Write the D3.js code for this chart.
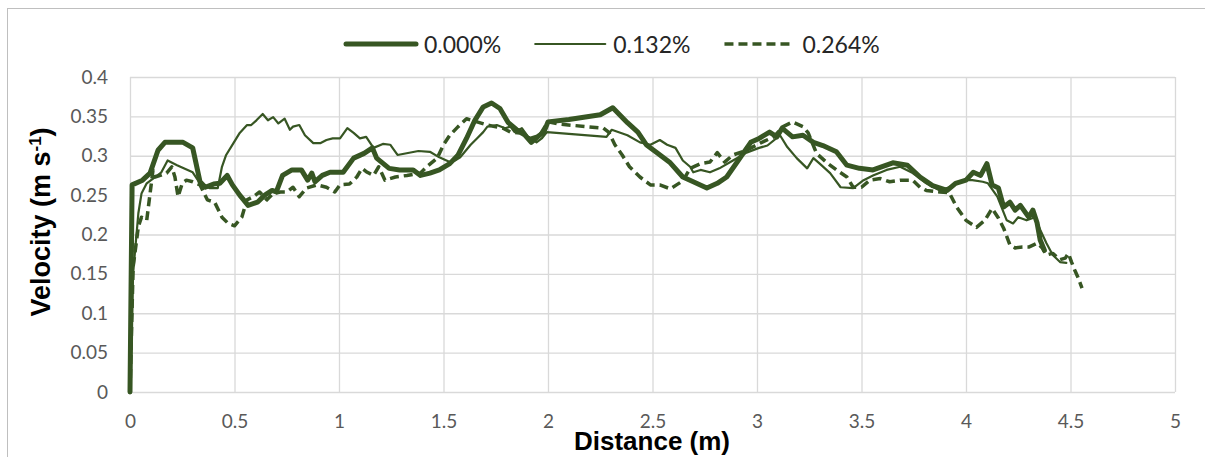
<!DOCTYPE html>
<html>
<head>
<meta charset="utf-8">
<script src="https://cdn.jsdelivr.net/npm/d3@7"></script>
<style>
  body { margin: 0; background: #fff; }
  svg { display: block; }
</style>
</head>
<body>
<svg id="chart" width="1205" height="457"></svg>
<script>
// series labels
const seriesNames = ['0.000%', '0.132%', '0.264%'];

// [distance (m), velocity (m/s)]
const vel000 = [
  [0, 0], [0.01, 0.263], [0.06, 0.269], [0.096, 0.278], [0.134, 0.307], [0.167, 0.317],
  [0.254, 0.317], [0.30, 0.31], [0.335, 0.267], [0.36, 0.26], [0.40, 0.264], [0.43, 0.265],
  [0.465, 0.275], [0.49, 0.263], [0.525, 0.25], [0.565, 0.237], [0.61, 0.241], [0.645, 0.25],
  [0.68, 0.256], [0.70, 0.254], [0.73, 0.275], [0.775, 0.282], [0.82, 0.282], [0.85, 0.269],
  [0.87, 0.278], [0.885, 0.267], [0.92, 0.275], [0.957, 0.279], [1.02, 0.279], [1.07, 0.297],
  [1.12, 0.303], [1.16, 0.31], [1.18, 0.297], [1.24, 0.284], [1.29, 0.282], [1.355, 0.282],
  [1.39, 0.275], [1.435, 0.278], [1.48, 0.282], [1.53, 0.29], [1.57, 0.301], [1.61, 0.322],
  [1.65, 0.345], [1.69, 0.362], [1.73, 0.367], [1.77, 0.36], [1.81, 0.342], [1.85, 0.333],
  [1.88, 0.329], [1.92, 0.317], [1.95, 0.324], [1.98, 0.33], [2.0, 0.343], [2.1, 0.346],
  [2.25, 0.352], [2.31, 0.361], [2.38, 0.342], [2.43, 0.33], [2.47, 0.314], [2.52, 0.304],
  [2.585, 0.291], [2.645, 0.273], [2.695, 0.267], [2.76, 0.259], [2.81, 0.265], [2.855, 0.273],
  [2.905, 0.292], [2.97, 0.317], [3.01, 0.322], [3.06, 0.33], [3.095, 0.324], [3.12, 0.335],
  [3.17, 0.324], [3.22, 0.326], [3.27, 0.317], [3.315, 0.313], [3.38, 0.305], [3.43, 0.288],
  [3.49, 0.284], [3.555, 0.282], [3.65, 0.291], [3.72, 0.288], [3.78, 0.273], [3.84, 0.262],
  [3.91, 0.256], [3.95, 0.265], [4.0, 0.269], [4.035, 0.279], [4.07, 0.275], [4.1, 0.29],
  [4.125, 0.263], [4.155, 0.259], [4.18, 0.235], [4.21, 0.241], [4.235, 0.231], [4.26, 0.237],
  [4.3, 0.222], [4.32, 0.231], [4.34, 0.215], [4.355, 0.193], [4.375, 0.18]
];

const vel132 = [
  [0, 0], [0.015, 0.151], [0.04, 0.227], [0.055, 0.252], [0.08, 0.265], [0.12, 0.273],
  [0.15, 0.279], [0.18, 0.294], [0.225, 0.288], [0.30, 0.279], [0.335, 0.265], [0.38, 0.259],
  [0.42, 0.259], [0.44, 0.286], [0.46, 0.301], [0.495, 0.316], [0.525, 0.329], [0.56, 0.339],
  [0.58, 0.339], [0.605, 0.345], [0.635, 0.353], [0.66, 0.345], [0.685, 0.349], [0.71, 0.341],
  [0.74, 0.347], [0.765, 0.333], [0.78, 0.337], [0.81, 0.339], [0.837, 0.326], [0.877, 0.316],
  [0.91, 0.316], [0.94, 0.32], [0.97, 0.322], [1.005, 0.322], [1.04, 0.335], [1.07, 0.329],
  [1.1, 0.322], [1.13, 0.324], [1.165, 0.31], [1.21, 0.315], [1.245, 0.314], [1.28, 0.301],
  [1.38, 0.306], [1.435, 0.305], [1.48, 0.298], [1.53, 0.292], [1.555, 0.294], [1.58, 0.298],
  [1.63, 0.314], [1.66, 0.322], [1.69, 0.33], [1.71, 0.337], [1.755, 0.339], [1.795, 0.335],
  [1.82, 0.337], [1.84, 0.33], [1.875, 0.335], [1.905, 0.324], [1.945, 0.317], [1.97, 0.322],
  [1.995, 0.33], [2.28, 0.324], [2.305, 0.333], [2.38, 0.326], [2.44, 0.317], [2.49, 0.314],
  [2.535, 0.32], [2.57, 0.314], [2.61, 0.31], [2.645, 0.294], [2.68, 0.286], [2.695, 0.279],
  [2.73, 0.282], [2.775, 0.279], [2.82, 0.284], [2.885, 0.294], [2.95, 0.304], [3.01, 0.31],
  [3.05, 0.313], [3.11, 0.326], [3.145, 0.311], [3.19, 0.297], [3.24, 0.284], [3.27, 0.297],
  [3.3, 0.29], [3.35, 0.278], [3.4, 0.26], [3.46, 0.259], [3.51, 0.269], [3.555, 0.275],
  [3.62, 0.282], [3.685, 0.286], [3.745, 0.278], [3.81, 0.265], [3.875, 0.256], [3.92, 0.26],
  [3.985, 0.269], [4.03, 0.269], [4.08, 0.267], [4.105, 0.265], [4.15, 0.248], [4.195, 0.218],
  [4.225, 0.214], [4.25, 0.222], [4.29, 0.218], [4.33, 0.222], [4.355, 0.206], [4.385, 0.189],
  [4.415, 0.174], [4.45, 0.165], [4.48, 0.164]
];

const vel264 = [
  [0, 0], [0.015, 0.159], [0.04, 0.21], [0.055, 0.222], [0.08, 0.218], [0.096, 0.252],
  [0.11, 0.282], [0.12, 0.273], [0.145, 0.275], [0.175, 0.278], [0.2, 0.286], [0.215, 0.273],
  [0.23, 0.248], [0.25, 0.265], [0.27, 0.269], [0.30, 0.267], [0.335, 0.263], [0.37, 0.244],
  [0.405, 0.241], [0.44, 0.222], [0.47, 0.214], [0.5, 0.211], [0.535, 0.222], [0.56, 0.244],
  [0.59, 0.248], [0.62, 0.254], [0.655, 0.244], [0.685, 0.252], [0.72, 0.254], [0.75, 0.254],
  [0.78, 0.26], [0.81, 0.248], [0.845, 0.259], [0.895, 0.263], [0.94, 0.26], [0.98, 0.254],
  [1.005, 0.263], [1.05, 0.264], [1.085, 0.273], [1.11, 0.284], [1.135, 0.279], [1.165, 0.275],
  [1.19, 0.286], [1.22, 0.269], [1.27, 0.273], [1.325, 0.275], [1.39, 0.278], [1.42, 0.286],
  [1.47, 0.297], [1.5, 0.314], [1.53, 0.326], [1.57, 0.337], [1.61, 0.347], [1.66, 0.343],
  [1.71, 0.339], [1.745, 0.337], [1.785, 0.335], [1.82, 0.33], [1.865, 0.329], [1.915, 0.322],
  [1.96, 0.326], [2.0, 0.343], [2.06, 0.34], [2.265, 0.335], [2.29, 0.33], [2.32, 0.314],
  [2.355, 0.301], [2.39, 0.286], [2.44, 0.273], [2.49, 0.263], [2.535, 0.263], [2.585, 0.258],
  [2.615, 0.263], [2.645, 0.268], [2.68, 0.284], [2.73, 0.29], [2.775, 0.292], [2.81, 0.304],
  [2.845, 0.292], [2.885, 0.301], [2.95, 0.307], [3.015, 0.316], [3.08, 0.324], [3.125, 0.337],
  [3.17, 0.343], [3.22, 0.337], [3.245, 0.329], [3.285, 0.303], [3.335, 0.291], [3.38, 0.282],
  [3.43, 0.273], [3.46, 0.26], [3.5, 0.26], [3.54, 0.269], [3.59, 0.271], [3.635, 0.267],
  [3.685, 0.269], [3.745, 0.269], [3.78, 0.26], [3.81, 0.256], [3.875, 0.254], [3.92, 0.253],
  [3.955, 0.235], [4.0, 0.218], [4.05, 0.209], [4.09, 0.218], [4.125, 0.233], [4.155, 0.221],
  [4.18, 0.208], [4.21, 0.187], [4.235, 0.183], [4.27, 0.184], [4.3, 0.184], [4.34, 0.189],
  [4.365, 0.183], [4.385, 0.174], [4.415, 0.176], [4.45, 0.168], [4.475, 0.17], [4.49, 0.176],
  [4.505, 0.165], [4.52, 0.155], [4.535, 0.146], [4.555, 0.132]
];

// tick labels
const xTicks = [0, 0.5, 1, 1.5, 2, 2.5, 3, 3.5, 4, 4.5, 5];
const xTickLabels = ['0', '0.5', '1', '1.5', '2', '2.5', '3', '3.5', '4', '4.5', '5'];
const yTicks = [0, 0.05, 0.1, 0.15, 0.2, 0.25, 0.3, 0.35, 0.4];
const yTickLabels = ['0', '0.05', '0.1', '0.15', '0.2', '0.25', '0.3', '0.35', '0.4'];

const green = '#375623';
const styles = [
  { width: 5, dash: null },
  { width: 2.2, dash: null },
  { width: 3.5, dash: '9,5' }
];
const allSeries = [vel000, vel132, vel264];

const svg = d3.select('#chart');
const plot = { left: 130, right: 1175, top: 77, bottom: 392 };

// chart frame
svg.append('rect')
  .attr('x', 7.5).attr('y', 8.5)
  .attr('width', 1230).attr('height', 480)
  .attr('fill', 'none')
  .attr('stroke', '#bfbfbf')
  .attr('stroke-width', 1);

const x = d3.scaleLinear().domain([0, 5]).range([plot.left, plot.right]);
const y = d3.scaleLinear().domain([0, 0.4]).range([plot.bottom, plot.top]);

// y axis + horizontal grid
const yAxis = svg.append('g')
  .attr('transform', `translate(${plot.left},0)`)
  .call(d3.axisLeft(y)
    .tickValues(yTicks)
    .tickSize(-(plot.right - plot.left))
    .tickPadding(22)
    .tickFormat((d, i) => yTickLabels[i]));

// x axis + vertical grid
const xAxis = svg.append('g')
  .attr('transform', `translate(0,${plot.bottom})`)
  .call(d3.axisBottom(x)
    .tickValues(xTicks)
    .tickSize(-(plot.bottom - plot.top))
    .tickPadding(23)
    .tickFormat((d, i) => xTickLabels[i]));

[xAxis, yAxis].forEach(g => {
  g.select('.domain').remove();
  g.selectAll('.tick line')
    .attr('stroke', '#d9d9d9')
    .attr('stroke-width', 1.3);
  g.selectAll('.tick text')
    .attr('fill', '#595959')
    .style('font-family', 'Lato, "Open Sans", sans-serif')
    .style('font-size', '19px');
});

// lines
const line = d3.line()
  .x(d => x(d[0]))
  .y(d => y(d[1]));

allSeries.forEach((data, i) => {
  svg.append('path')
    .datum(data)
    .attr('fill', 'none')
    .attr('stroke', green)
    .attr('stroke-width', styles[i].width)
    .attr('stroke-linejoin', 'round')
    .attr('stroke-linecap', styles[i].dash ? 'butt' : 'round')
    .attr('stroke-dasharray', styles[i].dash)
    .attr('d', line);
});

// legend
const legend = svg.append('g').attr('transform', 'translate(346,44)');
let lx = 0;
seriesNames.forEach((name, i) => {
  legend.append('line')
    .attr('x1', lx).attr('x2', lx + 70)
    .attr('y1', 0).attr('y2', 0)
    .attr('stroke', green)
    .attr('stroke-width', styles[i].width)
    .attr('stroke-linecap', styles[i].dash ? 'butt' : 'round')
    .attr('stroke-dasharray', styles[i].dash);
  const t = legend.append('text')
    .attr('x', lx + 78)
    .attr('y', 8.5)
    .attr('fill', '#262626')
    .style('font-family', 'Lato, "Open Sans", sans-serif')
    .style('font-size', '23px')
    .text(name);
  lx += 78 + t.node().getComputedTextLength() + 34;
});

// axis titles
svg.append('text')
  .attr('x', 652)
  .attr('y', 450)
  .attr('text-anchor', 'middle')
  .style('font-family', '"Liberation Sans", Arial, sans-serif')
  .style('font-weight', 'bold')
  .style('font-size', '26px')
  .attr('fill', '#000')
  .text('Distance (m)');

const yTitle = svg.append('text')
  .attr('transform', 'translate(50,222) rotate(-90)')
  .attr('text-anchor', 'middle')
  .style('font-family', '"Liberation Sans", Arial, sans-serif')
  .style('font-weight', 'bold')
  .style('font-size', '27px')
  .attr('fill', '#000');
yTitle.append('tspan').text('Velocity (m s');
yTitle.append('tspan')
  .attr('baseline-shift', 'super')
  .style('font-size', '17px')
  .text('-1');
yTitle.append('tspan').text(')');
</script>
</body>
</html>
